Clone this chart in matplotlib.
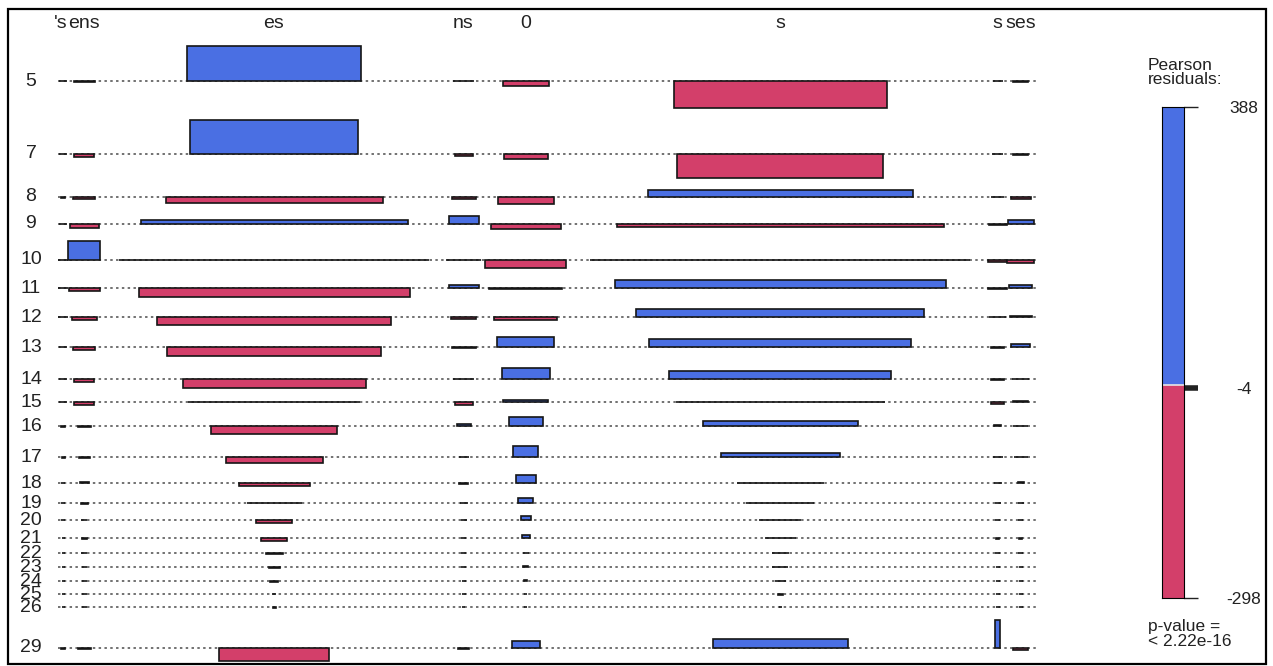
import matplotlib
matplotlib.use("Agg")
import matplotlib.pyplot as plt
from matplotlib.patches import Rectangle
import numpy as np

plt.rcParams['font.family'] = ['Liberation Sans', 'DejaVu Sans']

# categories
col_labels = ["'s", "ens", "es", "ns", "0", "s", "s", "ses"]
row_labels = ["5", "7", "8", "9", "10", "11", "12", "13", "14", "15", "16",
              "17", "18", "19", "20", "21", "22", "23", "24", "25", "26", "29"]

# Pearson residuals, one list per row (columns in col_labels order)
residuals = [
    [0, -11, 388, 0, -55, -298, 0, -11],
    [0, -33, 377, -22, -55, -266, 0, -11],
    [-11, -22, -67, -22, -78, 78, 0, -22],
    [0, -44, 44, 89, -55, -33, -11, 44],
    [0, 211, 0, 0, -89, 0, -22, -33],
    [0, -33, -100, 33, -11, 89, -11, 33],
    [0, -33, -89, -22, -33, 89, 0, 11],
    [0, -33, -100, -11, 111, 89, -11, 33],
    [0, -33, -100, 0, 122, 89, -11, 0],
    [0, -33, 0, -33, 22, 0, -22, 11],
    [-11, -11, -89, 22, 100, 55, 11, 0],
    [-11, -11, -67, 0, 122, 44, 0, 0],
    [0, 11, -33, -11, 89, 0, 0, 11],
    [0, -11, 0, 0, 55, 0, 0, 0],
    [0, 0, -33, 0, 44, 0, 0, 0],
    [0, -11, -33, 0, 33, 0, -11, -11],
    [0, 0, -11, 0, 0, 0, 0, 0],
    [0, 0, -11, 0, 11, 0, 0, 0],
    [0, 0, -11, 0, 11, 0, 0, 0],
    [0, 0, 0, 0, 0, -11, 0, 0],
    [0, 0, -11, 0, 0, 0, 0, 0],
    [-11, -11, -144, -11, 78, 100, 310, -22],
]

# square root of the expected counts (sets the box widths)
sqrt_expected = [
    [8, 21, 174, 21, 46, 213, 10, 15],
    [8, 20, 168, 18, 44, 206, 11, 15],
    [4, 22, 217, 24, 56, 265, 13, 20],
    [8, 29, 267, 30, 70, 327, 18, 26],
    [10, 32, 310, 35, 81, 380, 19, 27],
    [10, 31, 271, 30, 73, 331, 19, 23],
    [10, 25, 234, 25, 63, 288, 17, 22],
    [8, 22, 214, 24, 57, 262, 13, 19],
    [8, 20, 183, 21, 48, 222, 13, 17],
    [8, 20, 172, 18, 45, 209, 13, 15],
    [4, 13, 126, 14, 34, 155, 7, 15],
    [3, 11, 97, 10, 25, 119, 10, 14],
    [4, 9, 71, 9, 20, 87, 8, 6],
    [4, 7, 55, 8, 15, 68, 6, 6],
    [4, 6, 36, 6, 10, 42, 5, 5],
    [3, 5, 26, 5, 8, 31, 3, 3],
    [3, 6, 17, 5, 6, 17, 5, 5],
    [3, 5, 11, 5, 5, 16, 4, 4],
    [3, 5, 8, 4, 3, 11, 4, 4],
    [3, 5, 4, 4, 3, 5, 4, 4],
    [3, 5, 3, 3, 3, 3, 4, 4],
    [4, 13, 110, 11, 28, 135, 5, 15],
]

legend_ticks = [388, -4, -298]
p_value_text = "< 2.22e-16"

BLUE = "#4A6FE3"
RED = "#D33F6A"

res = np.array(residuals, dtype=float)
wid = np.array(sqrt_expected, dtype=float)

# layout (pixel units of the drawing area)
res_per_px = 388 / 35.0
heights = res / res_per_px
row_gap = 12
top = 46
left = 58
col_gap = [0, 19, 17, 4, 24, 18, 0]

col_w = wid.max(axis=0)
centres = []
x = left
for j, w in enumerate(col_w):
    centres.append(x + w / 2)
    x += w
    if j < len(col_gap):
        x += col_gap[j]
right = x

max_pos = np.clip(heights, 0, None).max(axis=1)
max_neg = np.clip(-heights, 0, None).max(axis=1)
bases = []
y = top
for i in range(len(row_labels)):
    y += max_pos[i]
    bases.append(y)
    y += max_neg[i] + row_gap

fig = plt.figure(figsize=(12.73, 6.66), dpi=100)
ax = fig.add_axes([0, 0, 1, 1])
ax.set_xlim(0, 1273)
ax.set_ylim(666, 0)
ax.axis('off')

# baselines
ax.hlines(bases, left, right + 2, colors='#4a4a4a', linestyles=(0, (1.6, 2.2)),
          linewidth=1.1, zorder=1)

# association boxes
for i, base in enumerate(bases):
    h = heights[i]
    cols = [BLUE if v > 0 else (RED if v < 0 else 'none') for v in res[i]]
    ax.bar(centres, -h, width=wid[i], bottom=base, color=cols,
           edgecolor='#151515', linewidth=1.2, zorder=3)

# labels
label_x = [61, 84] + centres[2:]
for j, lab in enumerate(col_labels):
    ax.text(label_x[j], 24, lab, ha='center', va='center', fontsize=14, color='#222222')
for i, lab in enumerate(row_labels):
    ax.text(31, bases[i], lab, ha='center', va='center', fontsize=14, color='#222222')

# outer frame
ax.add_patch(Rectangle((8, 9), 1258, 655, fill=False, lw=1.6, ec='black', clip_on=False))

# legend
ax.text(1148, 66, "Pearson", ha='left', va='center', fontsize=12.5, color='#222222')
ax.text(1148, 80, "residuals:", ha='left', va='center', fontsize=12.5, color='#222222')
ax.text(1148, 627, "p-value =", ha='left', va='center', fontsize=12.5, color='#222222')
ax.text(1148, 642, p_value_text, ha='left', va='center', fontsize=12.5, color='#222222')

lax = fig.add_axes([1162 / 1273, 1 - 598 / 666, 22 / 1273, 491 / 666])
lax.set_xlim(0, 1)
lax.set_ylim(min(legend_ticks), max(legend_ticks))
lax.bar(0.5, max(legend_ticks), bottom=0, width=1, color=BLUE)
lax.bar(0.5, min(legend_ticks), bottom=0, width=1, color=RED)
lax.axhline(0, color='#e6e6e6', lw=1.2)
lax.set_xticks([])
lax.yaxis.tick_right()
lax.set_yticks(legend_ticks)
lax.set_yticklabels([str(t) for t in legend_ticks])
lax.tick_params(axis='y', length=10, width=1, pad=33, labelsize=12.5, colors='#222222')
for lbl in lax.get_yticklabels():
    lbl.set_ha('center')
lax.yaxis.get_major_ticks()[1].tick2line.set_markeredgewidth(4)
for s in lax.spines.values():
    s.set_linewidth(0.8)

fig.savefig("out.png", dpi=100, facecolor='white')
